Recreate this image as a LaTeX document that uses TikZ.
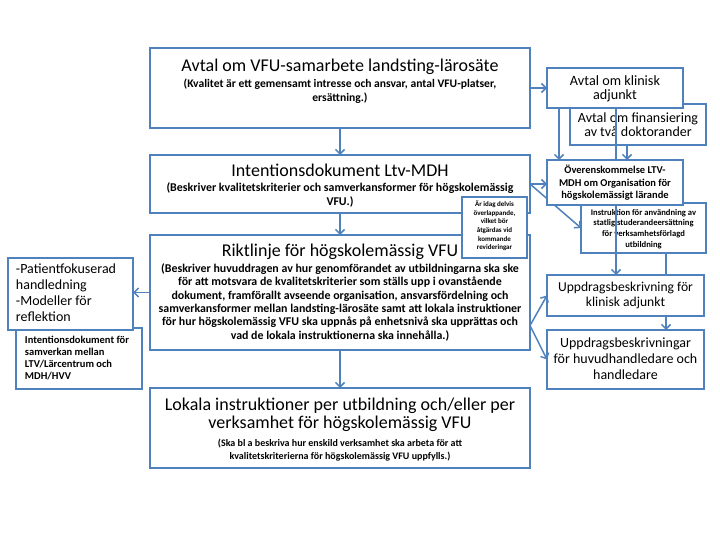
\documentclass[tikz,border=0pt]{standalone}
\usepackage{fontspec}
\setmainfont{Carlito}
\usetikzlibrary{arrows.meta,calc}
\definecolor{bl}{RGB}{79,129,189}
\newcommand\bx[5]{\parbox[c][#2][t]{#1}{#3\rule{0pt}{#4}#5}}
\newcommand\lyn[3]{\fontsize{#1}{#2}\selectfont #3\par}
\begin{document}
\begin{tikzpicture}[x=1pt,y=-1pt,
  box/.style={draw=bl, line width=1.2pt, fill=white, inner sep=0pt, outer sep=0pt, anchor=north west},
  arr/.style={draw=bl, line width=1.5pt, -{Straight Barb[length=4.5pt,width=9pt]}},
  conn/.style={draw=bl, line width=1.5pt}]
\fill[white] (0,0) rectangle (720,540);
\useasboundingbox (0,0) rectangle (720,540);
% main column
\node[box] (b1) at (150,48) {\bx{380pt}{80pt}{\centering}{24pt}{\lyn{18}{18}{Avtal om VFU-samarbete landsting-lärosäte}\bfseries\lyn{11.6}{16}{(Kvalitet är ett gemensamt intresse och ansvar, antal VFU-platser,}\lyn{11.6}{13.3}{ersättning.)}}};
\node[box] (b2) at (150,155) {\bx{380pt}{58pt}{\centering}{21.7pt}{\lyn{18}{18}{Intentionsdokument Ltv-MDH}\bfseries\lyn{11.9}{15}{(Beskriver kvalitetskriterier och samverkansformer för högskolemässig}\lyn{11.9}{13.5}{VFU.)}}};
\node[box] (b3) at (150,235) {\bx{380pt}{115pt}{\centering}{21pt}{\lyn{18}{18}{Riktlinje för högskolemässig VFU}\bfseries\lyn{11.9}{16.3}{(Beskriver huvuddragen av hur genomförandet av utbildningarna ska ske}\lyn{11.9}{13.4}{för att motsvara de kvalitetskriterier som ställs upp i ovanstående\\dokument, framförallt avseende organisation, ansvarsfördelning och\\samverkansformer mellan landsting-lärosäte samt att lokala instruktioner\\för hur högskolemässig VFU ska uppnås på enhetsnivå ska upprättas och\\vad de lokala instruktionerna ska innehålla.)}}};
\node[box] (b4) at (150,388) {\bx{380pt}{80pt}{\centering}{22.7pt}{\lyn{18}{18}{Lokala instruktioner per utbildning och/eller per}\lyn{18}{18}{verksamhet för högskolemässig VFU}\bfseries\lyn{10}{18}{(Ska bl a beskriva hur enskild verksamhet ska arbeta för att}\lyn{10}{12.7}{kvalitetskriterierna för högskolemässig VFU uppfylls.)}}};
% left boxes
\node[box] (b6) at (16,328) {\bx{126pt}{61pt}{\raggedright\leftskip=9pt}{15.3pt}{\bfseries\lyn{10.5}{12.2}{Intentionsdokument för\\samverkan mellan\\LTV/Lärcentrum och\\MDH/HVV}}};
\node[box] (b5) at (8,258) {\bx{125pt}{72pt}{\raggedright\leftskip=8pt}{15pt}{\lyn{14}{16}{-Patientfokuserad\\handledning\\-Modeller för\\reflektion}}};
% note
\node[box] (b13) at (462,197) {\bx{65pt}{61pt}{\centering}{9.7pt}{\bfseries\lyn{7}{8.6}{Är idag delvis\\överlappande,\\vilket bör\\åtgärdas vid\\kommande\\revideringar}}};
% right boxes
\node[box] (b8) at (570,104) {\bx{136pt}{41pt}{\centering}{18.7pt}{\lyn{14}{14}{Avtal om finansiering\\av två doktorander}}};
\node[box] (b10) at (581,203) {\bx{125pt}{50pt}{\centering}{12pt}{\bfseries\lyn{8.6}{10.8}{Instruktion för användning av\\statlig studerandeersättning\\för verksamhetsförlagd\\utbildning}}};
\node[box] (b7) at (547,68) {\bx{136pt}{40pt}{\centering}{18pt}{\lyn{14.2}{14}{Avtal om klinisk\\adjunkt}}};
\node[box] (b11) at (547,275) {\bx{157pt}{41pt}{\centering}{16.7pt}{\lyn{13.6}{15}{Uppdragsbeskrivning för\\klinisk adjunkt}}};
\node[box] (b12) at (547,330) {\bx{157pt}{59pt}{\centering}{17.3pt}{\lyn{14}{16}{Uppdragsbeskrivningar\\för huvudhandledare och\\handledare}}};
\coordinate (p7) at ($(b7.south west)+(69,0)$);
\draw[arr] (p7) -- (p7 |- b11.north);
\draw[arr] (b2.east) -- (b10.west);
\node[box] (b9) at (547,160) {\bx{136pt}{45pt}{\centering}{13.3pt}{\bfseries\lyn{10.5}{12.8}{Överenskommelse LTV-\\MDH om Organisation för\\högskolemässigt lärande}}};
% connectors
\draw[arr] (b1.south) -- (b2.north);
\draw[arr] (b2.south) -- (b3.north);
\draw[arr] (b3.south) -- (b4.north);
\draw[arr] (b1.east) -- (b7.west |- b1.east);
\coordinate (p5) at ($(b7.south west)+(12,0)$);
\draw[arr] (p5) -- (p5 |- b9.north);
\coordinate (p6) at ($(b8.south west)+(57,0)$);
\draw[arr] (p6) -- (p6 |- b9.north);
\coordinate (p8) at ($(b10.south west)+(85,0)$);
\draw[conn] (p8) -- (p8 |- b11.north);
\coordinate (p9) at ($(b11.south west)+(119,0)$);
\draw[arr] (p9) -- (p9 |- b12.north);
\draw[arr] (b2.east) -- (b9.west |- b2.east);
\coordinate (p12) at ($(b3.east)+(0,33)$);
\draw[arr] (p12) -- (b11.west);
\draw[arr] (p12) -- (b12.west);
\draw[arr] (b3.west) -- (b5.east |- b3.west);
\end{tikzpicture}
\end{document}
